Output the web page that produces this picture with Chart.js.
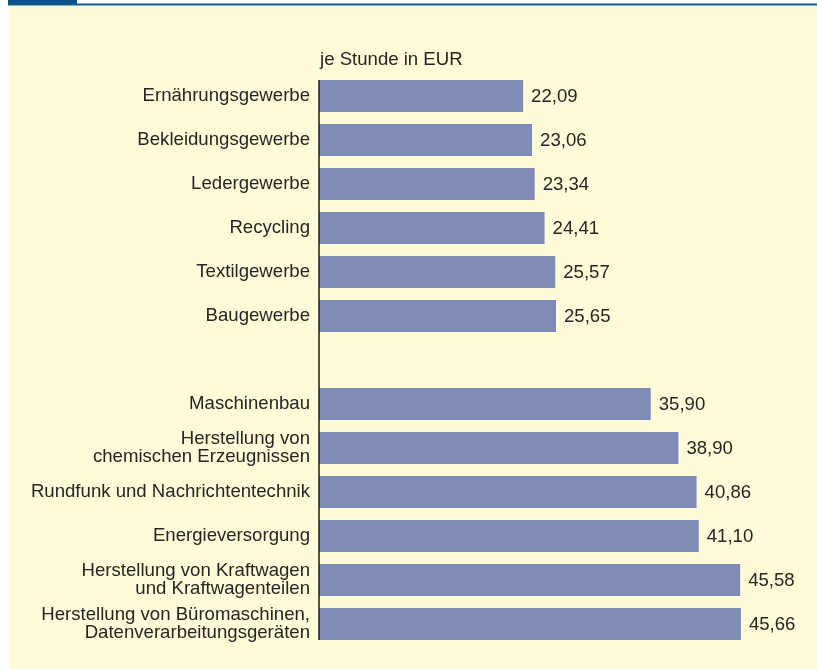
<!DOCTYPE html>
<html>
<head>
<meta charset="utf-8">
<script src="https://cdn.jsdelivr.net/npm/chart.js@4"></script>
<style>
  body { margin: 0; background: #fff; }
  canvas { display: block; }
</style>
</head>
<body>
<canvas id="myChart" width="817" height="669"></canvas>
<script>
// Branchen (leerer Eintrag = Abstand zwischen den Gruppen)
const branchen = [
  'Ernährungsgewerbe',
  'Bekleidungsgewerbe',
  'Ledergewerbe',
  'Recycling',
  'Textilgewerbe',
  'Baugewerbe',
  '',
  'Maschinenbau',
  ['Herstellung von', 'chemischen Erzeugnissen'],
  'Rundfunk und Nachrichtentechnik',
  'Energieversorgung',
  ['Herstellung von Kraftwagen', 'und Kraftwagenteilen'],
  ['Herstellung von Büromaschinen,', 'Datenverarbeitungsgeräten']
];
const kosten = [22.09, 23.06, 23.34, 24.41, 25.57, 25.65, null, 35.90, 38.90, 40.86, 41.10, 45.58, 45.66];
const einheit = 'je Stunde in EUR';

const schrift = '"Liberation Sans", Arial, Helvetica, sans-serif';
const textFarbe = '#252525';
const groesse = 18.6;

let fmt = (v) => v.toFixed(2).replace('.', ',');

// Hintergrund und Kopfleiste
const hintergrund = {
  id: 'hintergrund',
  beforeDraw(chart) {
    const c = chart.ctx;
    c.save();
    c.fillStyle = '#ffffff';
    c.fillRect(0, 0, chart.width, chart.height);
    c.fillStyle = '#fffbd8';
    c.fillRect(9, 6, chart.width - 9, chart.height - 6);
    c.fillStyle = '#0b5388';
    c.fillRect(8, 0, 69, 4);
    c.fillStyle = '#115b8b';
    c.fillRect(8, 3.5, chart.width - 8, 2);
    c.restore();
  }
};

// Achsenlinie, Einheit und Werte an den Balken
const beschriftung = {
  id: 'beschriftung',
  afterDatasetsDraw(chart) {
    const c = chart.ctx;
    const meta = chart.getDatasetMeta(0);
    const x0 = chart.scales.x.getPixelForValue(0);
    const bars = meta.data.filter((b, i) => kosten[i] != null);
    const first = bars[0], last = bars[bars.length - 1];
    c.save();
    c.strokeStyle = '#1e1e1e';
    c.lineWidth = 1.5;
    c.beginPath();
    c.moveTo(x0, first.y - first.height / 2);
    c.lineTo(x0, last.y + last.height / 2);
    c.stroke();

    c.fillStyle = textFarbe;
    c.font = groesse + 'px ' + schrift;
    c.textBaseline = 'middle';
    c.textAlign = 'left';
    meta.data.forEach((b, i) => {
      if (kosten[i] == null) return;
      c.fillText(fmt(kosten[i]), b.x + 8, b.y + 1);
    });
    c.textBaseline = 'alphabetic';
    c.fillText(einheit, x0 + 1, 65);
    c.restore();
  }
};

const dataset = {
  labels: branchen,
  datasets: [{
    data: kosten,
    backgroundColor: '#7d8bb5',
    borderWidth: 0,
    categoryPercentage: 1,
    barPercentage: 32 / 44
  }]
};

const config = {
  type: 'bar',
  data: dataset,
  options: {
    indexAxis: 'y',
    responsive: false,
    animation: false,
    devicePixelRatio: 1,
    layout: { padding: { top: 74, bottom: 23, right: 36, left: 0 } },
    plugins: { legend: { display: false }, tooltip: { enabled: false } },
    scales: {
      x: { display: false, min: 0, max: 50 },
      y: {
        afterFit: (scale) => { scale.width = 319; },
        border: { display: false },
        grid: { display: false, drawTicks: false },
        ticks: {
          padding: 9,
          color: textFarbe,
          font: { family: schrift, size: groesse, lineHeight: 0.95 }
        }
      }
    }
  },
  plugins: [hintergrund, beschriftung]
};

const chart = new Chart(document.getElementById('myChart'), config);
</script>
</body>
</html>
